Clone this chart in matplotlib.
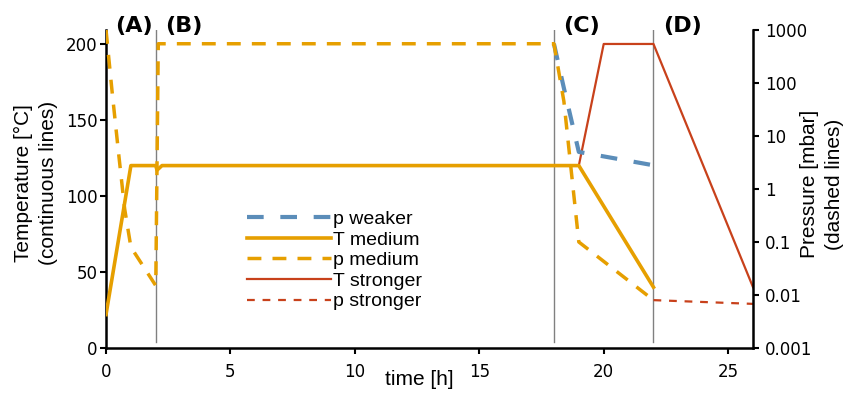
import matplotlib
matplotlib.use("Agg")
import matplotlib.pyplot as plt
from matplotlib.ticker import NullLocator

# temperature profiles (left axis)
t_T_medium = [0, 1, 2, 2.05, 2.25, 19, 22]
T_medium = [22, 120, 120, 117, 120, 120, 40]
t_T_stronger = [19, 20, 22, 26]
T_stronger = [120, 200, 200, 40]

# pressure profiles (right axis, log)
t_p_weaker = [18, 18.4, 18.7, 19, 22]
p_weaker = [550, 80, 20, 5, 2.8]
t_p_medium = [0, 0.25, 0.5, 0.75, 1.0, 2.0, 2.1, 18, 18.4, 18.65, 19, 22]
p_medium = [1000, 65, 5, 0.42, 0.08, 0.015, 550, 550, 45, 3.5, 0.1, 0.008]
t_p_stronger = [22, 26]
p_stronger = [0.008, 0.0068]

phase_bounds = [2, 18, 22]
phase_labels = ["(A)", "(B)", "(C)", "(D)"]
phase_starts = [0, 2, 18, 22]

x_ticks = [0, 5, 10, 15, 20, 25]
T_ticks = [0, 50, 100, 150, 200]
p_ticks = [0.001, 0.01, 0.1, 1, 10, 100, 1000]
p_ticklabels = ["0.001", "0.01", "0.1", "1", "10", "100", "1000"]

c_blue = "#5B8DB9"
c_orange = "#E69F00"
c_red = "#C8411B"

plt.rcParams["font.family"] = "DejaVu Sans"
label_font = {"family": "Liberation Sans", "size": 15}

fig, ax = plt.subplots(figsize=(8.44, 3.93), dpi=100)
fig.subplots_adjust(left=0.1256, right=0.8922, bottom=0.1145, top=0.9237)
ax2 = ax.twinx()

# phase boundaries
for xb in phase_bounds:
    ax.axvline(xb, ymin=0.019, ymax=1, color="#808080", lw=1, zorder=1)

h_Tm, = ax.plot(t_T_medium, T_medium, color=c_orange, lw=2.6, zorder=3)
h_Ts, = ax.plot(t_T_stronger, T_stronger, color=c_red, lw=1.6, zorder=2)

h_pw, = ax2.plot(t_p_weaker, p_weaker, color=c_blue, lw=3, ls=(0, (4, 4)))
h_pm, = ax2.plot(t_p_medium, p_medium, color=c_orange, lw=2.5, ls=(0, (4, 3.2)))
h_ps, = ax2.plot(t_p_stronger, p_stronger, color=c_red, lw=1.6, ls=(0, (3.5, 3.5)))

ax.set_xlim(0, 26)
ax.set_ylim(0, 209.2)
ax2.set_yscale("log")
ax2.set_ylim(0.001, 1000)

ax.set_xticks(x_ticks)
ax.set_yticks(T_ticks)
ax2.set_yticks(p_ticks)
ax2.set_yticklabels(p_ticklabels)
ax2.yaxis.set_minor_locator(NullLocator())

for a in (ax, ax2):
    a.spines["top"].set_visible(False)
    for s in a.spines.values():
        s.set_linewidth(1.8)
ax.spines["right"].set_visible(False)
ax2.spines["left"].set_visible(False)
ax2.spines["bottom"].set_visible(False)

ax.tick_params(axis="y", length=4.5, width=1.5, labelsize=12, pad=1.5)
ax.tick_params(axis="x", length=4.5, width=1.5, labelsize=12, pad=6)
ax2.tick_params(axis="y", length=4.5, width=1.5, labelsize=12, pad=4)

ax.set_xlabel("time [h]", fontdict=label_font)
ax.xaxis.set_label_coords(0.484, -0.10)
ax.xaxis.label.set_va("center")

ax.set_ylabel("Temperature [°C]\n(continuous lines)", fontdict=label_font,
              linespacing=1.4)
ax.yaxis.set_label_coords(-0.108, 0.519)
ax.yaxis.label.set_va("center")
ax.yaxis.label.set_ha("center")

ax2.set_ylabel("Pressure [mbar]\n(dashed lines)", fontdict=label_font,
               linespacing=1.4)
ax2.yaxis.set_label_coords(1.107, 0.516)
ax2.yaxis.label.set_va("center")
ax2.yaxis.label.set_ha("center")
ax2.yaxis.label.set_rotation(90)

for lab, xs in zip(phase_labels, phase_starts):
    ax.text(xs + 0.37, 1.0126, lab, transform=ax.get_xaxis_transform(),
            fontsize=16, fontweight="bold", ha="left", va="center")

leg = ax2.legend([h_pw, h_Tm, h_pm, h_Ts, h_ps],
                 ["p weaker", "T medium", "p medium", "T stronger", "p stronger"],
                 loc="upper left", bbox_to_anchor=(0.218, 0.432), frameon=False,
                 prop={"family": "Liberation Sans", "size": 14},
                 borderpad=0, borderaxespad=0, handlelength=4.3,
                 handletextpad=0.1, labelspacing=0.15)

fig.savefig("out.png", dpi=100)
